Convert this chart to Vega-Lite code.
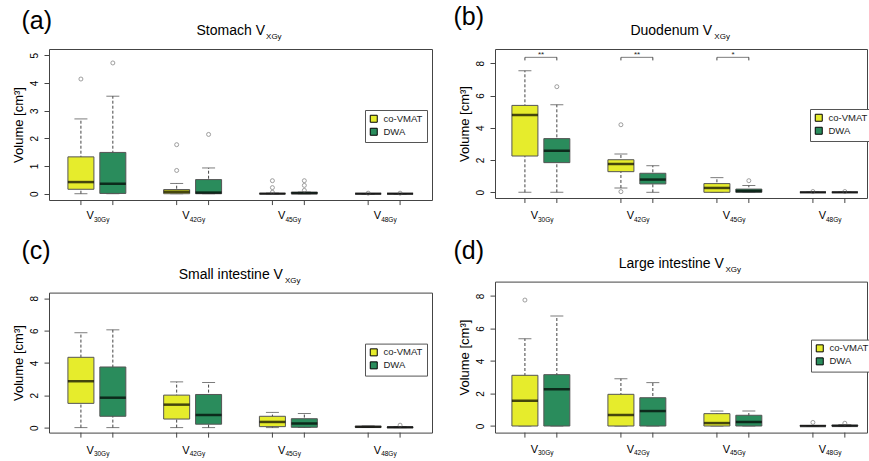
{
"$schema": "https://vega.github.io/schema/vega-lite/v6.json",
"padding": {"left": 11, "top": 4, "right": 0, "bottom": 0},
"config": {
 "font": "Liberation Sans",
 "view": {"stroke": "#444", "strokeWidth": 1},
 "axisY": {"domain": false, "grid": false, "tickSize": 5, "tickColor": "#444", "tickCount": 6, "labelAngle": -90, "labelAlign": "center", "labelBaseline": "bottom", "labelFontSize": 10, "labelColor": "#000", "labelPadding": 5, "labelOverlap": false, "titleFontSize": 13, "titleFontWeight": "normal", "titleColor": "#000", "titlePadding": 4},
 "legend": {"symbolType": "square", "symbolSize": 49, "symbolStrokeColor": "#000", "symbolStrokeWidth": 1, "labelFontSize": 9.5, "labelColor": "#222", "padding": 4, "rowPadding": 1, "strokeColor": "#555", "fillColor": "#fff", "labelOffset": 5, "symbolOpacity": 1},
 "title": {"font": "Liberation Sans", "fontWeight": "normal", "color": "#000", "subtitleColor": "#000", "subtitleFont": "Liberation Sans"}
},
"datasets": {
 "stats": [
  {"panel":"a","dose":"V30Gy","sub":"30Gy","group":"co-VMAT","lower":0,"q1":0.16,"median":0.42,"q3":1.33,"upper":2.70},
  {"panel":"a","dose":"V30Gy","sub":"30Gy","group":"DWA","lower":0,"q1":0.01,"median":0.36,"q3":1.49,"upper":3.52},
  {"panel":"a","dose":"V42Gy","sub":"42Gy","group":"co-VMAT","lower":0,"q1":0.0,"median":0.07,"q3":0.15,"upper":0.37},
  {"panel":"a","dose":"V42Gy","sub":"42Gy","group":"DWA","lower":0,"q1":0.0,"median":0.04,"q3":0.51,"upper":0.93},
  {"panel":"a","dose":"V45Gy","sub":"45Gy","group":"co-VMAT","lower":0,"q1":0,"median":0,"q3":0.01,"upper":0.02},
  {"panel":"a","dose":"V45Gy","sub":"45Gy","group":"DWA","lower":0,"q1":0,"median":0.02,"q3":0.06,"upper":0.06},
  {"panel":"a","dose":"V48Gy","sub":"48Gy","group":"co-VMAT","lower":0,"q1":0,"median":0,"q3":0,"upper":0},
  {"panel":"a","dose":"V48Gy","sub":"48Gy","group":"DWA","lower":0,"q1":0,"median":0,"q3":0,"upper":0},
  {"panel":"b","dose":"V30Gy","sub":"30Gy","group":"co-VMAT","lower":0,"q1":2.25,"median":4.79,"q3":5.39,"upper":7.54},
  {"panel":"b","dose":"V30Gy","sub":"30Gy","group":"DWA","lower":0,"q1":1.84,"median":2.58,"q3":3.33,"upper":5.43},
  {"panel":"b","dose":"V42Gy","sub":"42Gy","group":"co-VMAT","lower":0.27,"q1":1.28,"median":1.76,"q3":2.02,"upper":2.38},
  {"panel":"b","dose":"V42Gy","sub":"42Gy","group":"DWA","lower":0,"q1":0.52,"median":0.79,"q3":1.18,"upper":1.65},
  {"panel":"b","dose":"V45Gy","sub":"45Gy","group":"co-VMAT","lower":0,"q1":0,"median":0.27,"q3":0.54,"upper":0.91},
  {"panel":"b","dose":"V45Gy","sub":"45Gy","group":"DWA","lower":0,"q1":0,"median":0.08,"q3":0.2,"upper":0.42},
  {"panel":"b","dose":"V48Gy","sub":"48Gy","group":"co-VMAT","lower":0,"q1":0,"median":0,"q3":0,"upper":0},
  {"panel":"b","dose":"V48Gy","sub":"48Gy","group":"DWA","lower":0,"q1":0,"median":0,"q3":0,"upper":0},
  {"panel":"c","dose":"V30Gy","sub":"30Gy","group":"co-VMAT","lower":0,"q1":1.50,"median":2.87,"q3":4.35,"upper":5.87},
  {"panel":"c","dose":"V30Gy","sub":"30Gy","group":"DWA","lower":0,"q1":0.70,"median":1.85,"q3":3.75,"upper":6.05},
  {"panel":"c","dose":"V42Gy","sub":"42Gy","group":"co-VMAT","lower":0,"q1":0.53,"median":1.42,"q3":2.01,"upper":2.83},
  {"panel":"c","dose":"V42Gy","sub":"42Gy","group":"DWA","lower":0,"q1":0.21,"median":0.78,"q3":2.05,"upper":2.79},
  {"panel":"c","dose":"V45Gy","sub":"45Gy","group":"co-VMAT","lower":0,"q1":0.06,"median":0.35,"q3":0.70,"upper":0.94},
  {"panel":"c","dose":"V45Gy","sub":"45Gy","group":"DWA","lower":0,"q1":0.02,"median":0.25,"q3":0.55,"upper":0.88},
  {"panel":"c","dose":"V48Gy","sub":"48Gy","group":"co-VMAT","lower":0.01,"q1":0.02,"median":0.05,"q3":0.08,"upper":0.1},
  {"panel":"c","dose":"V48Gy","sub":"48Gy","group":"DWA","lower":0,"q1":0,"median":0.02,"q3":0.04,"upper":0.05},
  {"panel":"d","dose":"V30Gy","sub":"30Gy","group":"co-VMAT","lower":0,"q1":0,"median":1.56,"q3":3.12,"upper":5.37},
  {"panel":"d","dose":"V30Gy","sub":"30Gy","group":"DWA","lower":0,"q1":0,"median":2.26,"q3":3.16,"upper":6.77},
  {"panel":"d","dose":"V42Gy","sub":"42Gy","group":"co-VMAT","lower":0,"q1":0,"median":0.68,"q3":1.95,"upper":2.91},
  {"panel":"d","dose":"V42Gy","sub":"42Gy","group":"DWA","lower":0,"q1":0,"median":0.92,"q3":1.74,"upper":2.67},
  {"panel":"d","dose":"V45Gy","sub":"45Gy","group":"co-VMAT","lower":0,"q1":0,"median":0.18,"q3":0.76,"upper":0.92},
  {"panel":"d","dose":"V45Gy","sub":"45Gy","group":"DWA","lower":0,"q1":0,"median":0.25,"q3":0.66,"upper":0.92},
  {"panel":"d","dose":"V48Gy","sub":"48Gy","group":"co-VMAT","lower":0,"q1":0,"median":0,"q3":0.02,"upper":0.03},
  {"panel":"d","dose":"V48Gy","sub":"48Gy","group":"DWA","lower":0,"q1":0,"median":0.01,"q3":0.05,"upper":0.08}
 ],
 "outliers": [
  {"panel":"a","dose":"V30Gy","group":"co-VMAT","value":4.14},
  {"panel":"a","dose":"V30Gy","group":"DWA","value":4.72},
  {"panel":"a","dose":"V42Gy","group":"co-VMAT","value":1.77},
  {"panel":"a","dose":"V42Gy","group":"co-VMAT","value":0.84},
  {"panel":"a","dose":"V42Gy","group":"DWA","value":2.14},
  {"panel":"a","dose":"V45Gy","group":"co-VMAT","value":0.47},
  {"panel":"a","dose":"V45Gy","group":"co-VMAT","value":0.22},
  {"panel":"a","dose":"V45Gy","group":"co-VMAT","value":0.05},
  {"panel":"a","dose":"V45Gy","group":"DWA","value":0.47},
  {"panel":"a","dose":"V45Gy","group":"DWA","value":0.30},
  {"panel":"a","dose":"V45Gy","group":"DWA","value":0.12},
  {"panel":"a","dose":"V48Gy","group":"co-VMAT","value":0.02},
  {"panel":"a","dose":"V48Gy","group":"DWA","value":0.02},
  {"panel":"b","dose":"V30Gy","group":"DWA","value":6.55},
  {"panel":"b","dose":"V42Gy","group":"co-VMAT","value":4.19},
  {"panel":"b","dose":"V42Gy","group":"co-VMAT","value":0.04},
  {"panel":"b","dose":"V45Gy","group":"DWA","value":0.72},
  {"panel":"b","dose":"V48Gy","group":"co-VMAT","value":0.05},
  {"panel":"b","dose":"V48Gy","group":"DWA","value":0.05},
  {"panel":"c","dose":"V48Gy","group":"DWA","value":0.15},
  {"panel":"d","dose":"V30Gy","group":"co-VMAT","value":7.75},
  {"panel":"d","dose":"V48Gy","group":"co-VMAT","value":0.22},
  {"panel":"d","dose":"V48Gy","group":"DWA","value":0.17}
 ],
 "brackets": [
  {"dose":"V30Gy","group":"co-VMAT","stars":"**"},
  {"dose":"V30Gy","group":"DWA","stars":"**"},
  {"dose":"V42Gy","group":"co-VMAT","stars":"**"},
  {"dose":"V42Gy","group":"DWA","stars":"**"},
  {"dose":"V45Gy","group":"co-VMAT","stars":"*"},
  {"dose":"V45Gy","group":"DWA","stars":"*"}
 ]
},
"resolve": {"scale": {"color": "independent"}, "legend": {"color": "independent"}},
"hconcat": [
 {"resolve": {"scale": {"color": "independent"}, "legend": {"color": "independent"}},
  "spacing": 14.6,
  "vconcat": [
  {"title": {"text": "(a)", "anchor": "start", "fontSize": 25, "dx": 10, "offset": -10.6},
   "resolve": {"scale": {"color": "independent"}, "legend": {"color": "independent"}},
   "vconcat": [{
    "width": 383, "height": 151,
    "title": {"text": "Stomach V\u00a0\u00a0\u00a0\u00a0\u00a0\u200b", "subtitle": "\u200b\u00a0\u00a0\u00a0\u00a0\u00a0\u00a0\u00a0\u00a0\u00a0\u00a0\u00a0\u00a0\u00a0\u00a0\u00a0\u00a0\u00a0\u00a0\u00a0\u00a0\u00a0\u00a0\u00a0\u00a0\u00a0\u00a0\u00a0\u00a0\u00a0\u00a0XGy", "fontSize": 14, "subtitleFontSize": 8, "subtitlePadding": -5, "anchor": "middle", "offset": 8},
    "layer": [
     {"data": {"name": "stats"}, "transform": [{"filter": "datum.panel === 'a'"}],
      "mark": {"type": "rule", "strokeDash": [3, 2], "color": "#444"},
      "encoding": {
       "x": {"field": "dose", "type": "nominal", "scale": {"domain": ["V30Gy","V42Gy","V45Gy","V48Gy"], "paddingInner": 0, "paddingOuter": 0}, "axis": null},
       "xOffset": {"field": "group", "type": "nominal", "scale": {"domain": ["co-VMAT","DWA"], "paddingInner": 0, "paddingOuter": 0.5}},
       "y": {"field": "lower", "type": "quantitative", "scale": {"domain": [-0.227, 5.224], "nice": false, "zero": false}, "axis": {"values": [0,1,2,3,4,5], "title": "Volume [cm³]"}},
       "y2": {"field": "upper"}}},
     {"data": {"name": "stats"}, "transform": [{"filter": "datum.panel === 'a'"}],
      "mark": {"type": "tick", "size": 13, "thickness": 1, "color": "#444"},
      "encoding": {"x": {"field": "dose", "type": "nominal", "axis": null}, "xOffset": {"field": "group", "type": "nominal"}, "y": {"field": "lower", "type": "quantitative", "axis": {"values": [0,1,2,3,4,5], "title": "Volume [cm³]"}}}},
     {"data": {"name": "stats"}, "transform": [{"filter": "datum.panel === 'a'"}],
      "mark": {"type": "tick", "size": 13, "thickness": 1, "color": "#444"},
      "encoding": {"x": {"field": "dose", "type": "nominal", "axis": null}, "xOffset": {"field": "group", "type": "nominal"}, "y": {"field": "upper", "type": "quantitative", "axis": {"values": [0,1,2,3,4,5], "title": "Volume [cm³]"}}}},
     {"data": {"name": "stats"}, "transform": [{"filter": "datum.panel === 'a'"}],
      "mark": {"type": "bar", "width": 26, "stroke": "#555", "strokeWidth": 1, "opacity": 1},
      "encoding": {"x": {"field": "dose", "type": "nominal", "axis": null}, "xOffset": {"field": "group", "type": "nominal"}, "y": {"field": "q1", "type": "quantitative", "axis": {"values": [0,1,2,3,4,5], "title": "Volume [cm³]"}}, "y2": {"field": "q3"},
       "color": {"field": "group", "type": "nominal", "scale": {"domain": ["co-VMAT","DWA"], "range": ["#e6ec2c","#2a8c5c"]}, "legend": {"title": null, "orient": "none", "legendX": 316, "legendY": 61}}}},
     {"data": {"name": "stats"}, "transform": [{"filter": "datum.panel === 'a'"}],
      "mark": {"type": "tick", "size": 26, "thickness": 2.5, "color": "#000"},
      "encoding": {"x": {"field": "dose", "type": "nominal", "axis": null}, "xOffset": {"field": "group", "type": "nominal"}, "y": {"field": "median", "type": "quantitative", "axis": {"values": [0,1,2,3,4,5], "title": "Volume [cm³]"}}}},
     {"data": {"name": "outliers"}, "transform": [{"filter": "datum.panel === 'a'"}],
      "mark": {"type": "point", "filled": false, "size": 16, "stroke": "#555", "strokeWidth": 0.8},
      "encoding": {"x": {"field": "dose", "type": "nominal", "axis": null}, "xOffset": {"field": "group", "type": "nominal"}, "y": {"field": "value", "type": "quantitative", "axis": {"values": [0,1,2,3,4,5], "title": "Volume [cm³]"}}}},
     {"data": {"name": "stats"}, "transform": [{"filter": "datum.panel === 'a'"}],
      "mark": {"type": "rule", "color": "#444"},
      "encoding": {"x": {"field": "dose", "type": "nominal", "axis": null}, "xOffset": {"field": "group", "type": "nominal"}, "y": {"datum": -0.227, "axis": {"values": [0,1,2,3,4,5], "title": "Volume [cm³]"}}, "y2": {"datum": -0.41}}},
     {"data": {"name": "stats"}, "transform": [{"filter": "datum.panel === 'a' && datum.group === 'co-VMAT'"}],
      "mark": {"type": "text", "align": "right", "baseline": "alphabetic", "dx": -3, "dy": 19, "fontSize": 11, "color": "#000"},
      "encoding": {"x": {"field": "dose", "type": "nominal", "axis": null}, "y": {"datum": -0.227, "axis": {"values": [0,1,2,3,4,5], "title": "Volume [cm³]"}}, "text": {"value": "V"}}},
     {"data": {"name": "stats"}, "transform": [{"filter": "datum.panel === 'a' && datum.group === 'co-VMAT'"}],
      "mark": {"type": "text", "align": "left", "baseline": "alphabetic", "dx": -3, "dy": 21.5, "fontSize": 6.5, "color": "#000"},
      "encoding": {"x": {"field": "dose", "type": "nominal", "axis": null}, "y": {"datum": -0.227, "axis": {"values": [0,1,2,3,4,5], "title": "Volume [cm³]"}}, "text": {"field": "sub"}}}
    ]
   }]
  },
  {"title": {"text": "(c)", "anchor": "start", "fontSize": 25, "dx": 10, "offset": 2.7},
   "resolve": {"scale": {"color": "independent"}, "legend": {"color": "independent"}},
   "vconcat": [{
    "width": 383, "height": 140,
    "title": {"text": "Small intestine V\u00a0\u00a0\u00a0\u00a0\u00a0\u200b", "subtitle": "\u200b\u00a0\u00a0\u00a0\u00a0\u00a0\u00a0\u00a0\u00a0\u00a0\u00a0\u00a0\u00a0\u00a0\u00a0\u00a0\u00a0\u00a0\u00a0\u00a0\u00a0\u00a0\u00a0\u00a0\u00a0\u00a0\u00a0\u00a0\u00a0\u00a0\u00a0\u00a0\u00a0\u00a0\u00a0\u00a0\u00a0\u00a0\u00a0\u00a0\u00a0\u00a0\u00a0\u00a0\u00a0\u00a0\u00a0\u00a0XGy", "fontSize": 14, "subtitleFontSize": 8, "subtitlePadding": -5, "anchor": "middle", "offset": 8},
    "layer": [
     {"data": {"name": "stats"}, "transform": [{"filter": "datum.panel === 'c'"}],
      "mark": {"type": "rule", "strokeDash": [3, 2], "color": "#444"},
      "encoding": {
       "x": {"field": "dose", "type": "nominal", "scale": {"domain": ["V30Gy","V42Gy","V45Gy","V48Gy"], "paddingInner": 0, "paddingOuter": 0}, "axis": null},
       "xOffset": {"field": "group", "type": "nominal", "scale": {"domain": ["co-VMAT","DWA"], "paddingInner": 0, "paddingOuter": 0.5}},
       "y": {"field": "lower", "type": "quantitative", "scale": {"domain": [-0.309, 8.353], "nice": false, "zero": false}, "axis": {"values": [0,2,4,6,8], "title": "Volume [cm³]"}},
       "y2": {"field": "upper"}}},
     {"data": {"name": "stats"}, "transform": [{"filter": "datum.panel === 'c'"}],
      "mark": {"type": "tick", "size": 13, "thickness": 1, "color": "#444"},
      "encoding": {"x": {"field": "dose", "type": "nominal", "axis": null}, "xOffset": {"field": "group", "type": "nominal"}, "y": {"field": "lower", "type": "quantitative", "axis": {"values": [0,2,4,6,8], "title": "Volume [cm³]"}}}},
     {"data": {"name": "stats"}, "transform": [{"filter": "datum.panel === 'c'"}],
      "mark": {"type": "tick", "size": 13, "thickness": 1, "color": "#444"},
      "encoding": {"x": {"field": "dose", "type": "nominal", "axis": null}, "xOffset": {"field": "group", "type": "nominal"}, "y": {"field": "upper", "type": "quantitative", "axis": {"values": [0,2,4,6,8], "title": "Volume [cm³]"}}}},
     {"data": {"name": "stats"}, "transform": [{"filter": "datum.panel === 'c'"}],
      "mark": {"type": "bar", "width": 26, "stroke": "#555", "strokeWidth": 1, "opacity": 1},
      "encoding": {"x": {"field": "dose", "type": "nominal", "axis": null}, "xOffset": {"field": "group", "type": "nominal"}, "y": {"field": "q1", "type": "quantitative", "axis": {"values": [0,2,4,6,8], "title": "Volume [cm³]"}}, "y2": {"field": "q3"},
       "color": {"field": "group", "type": "nominal", "scale": {"domain": ["co-VMAT","DWA"], "range": ["#e6ec2c","#2a8c5c"]}, "legend": {"title": null, "orient": "none", "legendX": 316, "legendY": 51}}}},
     {"data": {"name": "stats"}, "transform": [{"filter": "datum.panel === 'c'"}],
      "mark": {"type": "tick", "size": 26, "thickness": 2.5, "color": "#000"},
      "encoding": {"x": {"field": "dose", "type": "nominal", "axis": null}, "xOffset": {"field": "group", "type": "nominal"}, "y": {"field": "median", "type": "quantitative", "axis": {"values": [0,2,4,6,8], "title": "Volume [cm³]"}}}},
     {"data": {"name": "outliers"}, "transform": [{"filter": "datum.panel === 'c'"}],
      "mark": {"type": "point", "filled": false, "size": 16, "stroke": "#555", "strokeWidth": 0.8},
      "encoding": {"x": {"field": "dose", "type": "nominal", "axis": null}, "xOffset": {"field": "group", "type": "nominal"}, "y": {"field": "value", "type": "quantitative", "axis": {"values": [0,2,4,6,8], "title": "Volume [cm³]"}}}},
     {"data": {"name": "stats"}, "transform": [{"filter": "datum.panel === 'c'"}],
      "mark": {"type": "rule", "color": "#444"},
      "encoding": {"x": {"field": "dose", "type": "nominal", "axis": null}, "xOffset": {"field": "group", "type": "nominal"}, "y": {"datum": -0.309, "axis": {"values": [0,2,4,6,8], "title": "Volume [cm³]"}}, "y2": {"datum": -0.619}}},
     {"data": {"name": "stats"}, "transform": [{"filter": "datum.panel === 'c' && datum.group === 'co-VMAT'"}],
      "mark": {"type": "text", "align": "right", "baseline": "alphabetic", "dx": -3, "dy": 21, "fontSize": 11, "color": "#000"},
      "encoding": {"x": {"field": "dose", "type": "nominal", "axis": null}, "y": {"datum": -0.309, "axis": {"values": [0,2,4,6,8], "title": "Volume [cm³]"}}, "text": {"value": "V"}}},
     {"data": {"name": "stats"}, "transform": [{"filter": "datum.panel === 'c' && datum.group === 'co-VMAT'"}],
      "mark": {"type": "text", "align": "left", "baseline": "alphabetic", "dx": -3, "dy": 23.5, "fontSize": 6.5, "color": "#000"},
      "encoding": {"x": {"field": "dose", "type": "nominal", "axis": null}, "y": {"datum": -0.309, "axis": {"values": [0,2,4,6,8], "title": "Volume [cm³]"}}, "text": {"field": "sub"}}}
    ]
   }]
  }
 ]},
 {"resolve": {"scale": {"color": "independent"}, "legend": {"color": "independent"}},
  "spacing": 14.6,
  "vconcat": [
  {"title": {"text": "(b)", "anchor": "start", "fontSize": 25, "dx": -4, "offset": -6},
   "resolve": {"scale": {"color": "independent"}, "legend": {"color": "independent"}},
   "vconcat": [{
    "width": 372, "height": 149,
    "title": {"text": "Duodenum V\u00a0\u00a0\u00a0\u00a0\u00a0\u200b", "subtitle": "\u200b\u00a0\u00a0\u00a0\u00a0\u00a0\u00a0\u00a0\u00a0\u00a0\u00a0\u00a0\u00a0\u00a0\u00a0\u00a0\u00a0\u00a0\u00a0\u00a0\u00a0\u00a0\u00a0\u00a0\u00a0\u00a0\u00a0\u00a0\u00a0\u00a0\u00a0\u00a0\u00a0\u00a0\u00a0\u00a0\u00a0\u00a0XGy", "fontSize": 14, "subtitleFontSize": 8, "subtitlePadding": -5, "anchor": "middle", "offset": 8},
    "layer": [
     {"data": {"name": "stats"}, "transform": [{"filter": "datum.panel === 'b'"}],
      "mark": {"type": "rule", "strokeDash": [3, 2], "color": "#444"},
      "encoding": {
       "x": {"field": "dose", "type": "nominal", "scale": {"domain": ["V30Gy","V42Gy","V45Gy","V48Gy"], "paddingInner": 0, "paddingOuter": 0, "range": [-2, 382]}, "axis": null},
       "xOffset": {"field": "group", "type": "nominal", "scale": {"domain": ["co-VMAT","DWA"], "paddingInner": 0, "paddingOuter": 0.5}},
       "y": {"field": "lower", "type": "quantitative", "scale": {"domain": [-0.353, 8.887], "nice": false, "zero": false}, "axis": {"values": [0,2,4,6,8], "title": "Volume [cm³]"}},
       "y2": {"field": "upper"}}},
     {"data": {"name": "stats"}, "transform": [{"filter": "datum.panel === 'b'"}],
      "mark": {"type": "tick", "size": 13, "thickness": 1, "color": "#444"},
      "encoding": {"x": {"field": "dose", "type": "nominal", "axis": null}, "xOffset": {"field": "group", "type": "nominal"}, "y": {"field": "lower", "type": "quantitative", "axis": {"values": [0,2,4,6,8], "title": "Volume [cm³]"}}}},
     {"data": {"name": "stats"}, "transform": [{"filter": "datum.panel === 'b'"}],
      "mark": {"type": "tick", "size": 13, "thickness": 1, "color": "#444"},
      "encoding": {"x": {"field": "dose", "type": "nominal", "axis": null}, "xOffset": {"field": "group", "type": "nominal"}, "y": {"field": "upper", "type": "quantitative", "axis": {"values": [0,2,4,6,8], "title": "Volume [cm³]"}}}},
     {"data": {"name": "stats"}, "transform": [{"filter": "datum.panel === 'b'"}],
      "mark": {"type": "bar", "width": 26, "stroke": "#555", "strokeWidth": 1, "opacity": 1},
      "encoding": {"x": {"field": "dose", "type": "nominal", "axis": null}, "xOffset": {"field": "group", "type": "nominal"}, "y": {"field": "q1", "type": "quantitative", "axis": {"values": [0,2,4,6,8], "title": "Volume [cm³]"}}, "y2": {"field": "q3"},
       "color": {"field": "group", "type": "nominal", "scale": {"domain": ["co-VMAT","DWA"], "range": ["#e6ec2c","#2a8c5c"]}, "legend": {"title": null, "orient": "none", "legendX": 315, "legendY": 60}}}},
     {"data": {"name": "stats"}, "transform": [{"filter": "datum.panel === 'b'"}],
      "mark": {"type": "tick", "size": 26, "thickness": 2.5, "color": "#000"},
      "encoding": {"x": {"field": "dose", "type": "nominal", "axis": null}, "xOffset": {"field": "group", "type": "nominal"}, "y": {"field": "median", "type": "quantitative", "axis": {"values": [0,2,4,6,8], "title": "Volume [cm³]"}}}},
     {"data": {"name": "outliers"}, "transform": [{"filter": "datum.panel === 'b'"}],
      "mark": {"type": "point", "filled": false, "size": 16, "stroke": "#555", "strokeWidth": 0.8},
      "encoding": {"x": {"field": "dose", "type": "nominal", "axis": null}, "xOffset": {"field": "group", "type": "nominal"}, "y": {"field": "value", "type": "quantitative", "axis": {"values": [0,2,4,6,8], "title": "Volume [cm³]"}}}},
     {"data": {"name": "stats"}, "transform": [{"filter": "datum.panel === 'b'"}],
      "mark": {"type": "rule", "color": "#444"},
      "encoding": {"x": {"field": "dose", "type": "nominal", "axis": null}, "xOffset": {"field": "group", "type": "nominal"}, "y": {"datum": -0.353, "axis": {"values": [0,2,4,6,8], "title": "Volume [cm³]"}}, "y2": {"datum": -0.663}}},
     {"data": {"name": "stats"}, "transform": [{"filter": "datum.panel === 'b' && datum.group === 'co-VMAT'"}],
      "mark": {"type": "text", "align": "right", "baseline": "alphabetic", "dx": -3, "dy": 21, "fontSize": 11, "color": "#000"},
      "encoding": {"x": {"field": "dose", "type": "nominal", "axis": null}, "y": {"datum": -0.353, "axis": {"values": [0,2,4,6,8], "title": "Volume [cm³]"}}, "text": {"value": "V"}}},
     {"data": {"name": "stats"}, "transform": [{"filter": "datum.panel === 'b' && datum.group === 'co-VMAT'"}],
      "mark": {"type": "text", "align": "left", "baseline": "alphabetic", "dx": -3, "dy": 23.5, "fontSize": 6.5, "color": "#000"},
      "encoding": {"x": {"field": "dose", "type": "nominal", "axis": null}, "y": {"datum": -0.353, "axis": {"values": [0,2,4,6,8], "title": "Volume [cm³]"}}, "text": {"field": "sub"}}},
     {"data": {"name": "brackets"}, "transform": [{"filter": "datum.group === 'co-VMAT'"}],
      "mark": {"type": "tick", "size": 32, "thickness": 1, "color": "#444"},
      "encoding": {"x": {"field": "dose", "type": "nominal", "axis": null}, "y": {"datum": 8.37, "axis": {"values": [0,2,4,6,8], "title": "Volume [cm³]"}}}},
     {"data": {"name": "brackets"},
      "mark": {"type": "rule", "color": "#444"},
      "encoding": {"x": {"field": "dose", "type": "nominal", "axis": null}, "xOffset": {"field": "group", "type": "nominal"}, "y": {"datum": 8.37, "axis": {"values": [0,2,4,6,8], "title": "Volume [cm³]"}}, "y2": {"datum": 8.18}}},
     {"data": {"name": "brackets"}, "transform": [{"filter": "datum.group === 'co-VMAT'"}],
      "mark": {"type": "text", "baseline": "alphabetic", "fontSize": 8, "dy": -0.5, "color": "#222"},
      "encoding": {"x": {"field": "dose", "type": "nominal", "axis": null}, "y": {"datum": 8.37, "axis": {"values": [0,2,4,6,8], "title": "Volume [cm³]"}}, "text": {"field": "stars"}}}
    ]
   }]
  },
  {"title": {"text": "(d)", "anchor": "start", "fontSize": 25, "dx": -4, "offset": -7.7},
   "resolve": {"scale": {"color": "independent"}, "legend": {"color": "independent"}},
   "vconcat": [{
    "width": 372, "height": 151,
    "title": {"text": "Large intestine V\u00a0\u00a0\u00a0\u00a0\u00a0\u200b", "subtitle": "\u200b\u00a0\u00a0\u00a0\u00a0\u00a0\u00a0\u00a0\u00a0\u00a0\u00a0\u00a0\u00a0\u00a0\u00a0\u00a0\u00a0\u00a0\u00a0\u00a0\u00a0\u00a0\u00a0\u00a0\u00a0\u00a0\u00a0\u00a0\u00a0\u00a0\u00a0\u00a0\u00a0\u00a0\u00a0\u00a0\u00a0\u00a0\u00a0\u00a0\u00a0\u00a0\u00a0\u00a0\u00a0\u00a0\u00a0\u00a0XGy", "fontSize": 14, "subtitleFontSize": 8, "subtitlePadding": -5, "anchor": "middle", "offset": 8},
    "layer": [
     {"data": {"name": "stats"}, "transform": [{"filter": "datum.panel === 'd'"}],
      "mark": {"type": "rule", "strokeDash": [3, 2], "color": "#444"},
      "encoding": {
       "x": {"field": "dose", "type": "nominal", "scale": {"domain": ["V30Gy","V42Gy","V45Gy","V48Gy"], "paddingInner": 0, "paddingOuter": 0, "range": [-2, 382]}, "axis": null},
       "xOffset": {"field": "group", "type": "nominal", "scale": {"domain": ["co-VMAT","DWA"], "paddingInner": 0, "paddingOuter": 0.5}},
       "y": {"field": "lower", "type": "quantitative", "scale": {"domain": [-0.406, 8.886], "nice": false, "zero": false}, "axis": {"values": [0,2,4,6,8], "title": "Volume [cm³]"}},
       "y2": {"field": "upper"}}},
     {"data": {"name": "stats"}, "transform": [{"filter": "datum.panel === 'd'"}],
      "mark": {"type": "tick", "size": 13, "thickness": 1, "color": "#444"},
      "encoding": {"x": {"field": "dose", "type": "nominal", "axis": null}, "xOffset": {"field": "group", "type": "nominal"}, "y": {"field": "lower", "type": "quantitative", "axis": {"values": [0,2,4,6,8], "title": "Volume [cm³]"}}}},
     {"data": {"name": "stats"}, "transform": [{"filter": "datum.panel === 'd'"}],
      "mark": {"type": "tick", "size": 13, "thickness": 1, "color": "#444"},
      "encoding": {"x": {"field": "dose", "type": "nominal", "axis": null}, "xOffset": {"field": "group", "type": "nominal"}, "y": {"field": "upper", "type": "quantitative", "axis": {"values": [0,2,4,6,8], "title": "Volume [cm³]"}}}},
     {"data": {"name": "stats"}, "transform": [{"filter": "datum.panel === 'd'"}],
      "mark": {"type": "bar", "width": 26, "stroke": "#555", "strokeWidth": 1, "opacity": 1},
      "encoding": {"x": {"field": "dose", "type": "nominal", "axis": null}, "xOffset": {"field": "group", "type": "nominal"}, "y": {"field": "q1", "type": "quantitative", "axis": {"values": [0,2,4,6,8], "title": "Volume [cm³]"}}, "y2": {"field": "q3"},
       "color": {"field": "group", "type": "nominal", "scale": {"domain": ["co-VMAT","DWA"], "range": ["#e6ec2c","#2a8c5c"]}, "legend": {"title": null, "orient": "none", "legendX": 316, "legendY": 58}}}},
     {"data": {"name": "stats"}, "transform": [{"filter": "datum.panel === 'd'"}],
      "mark": {"type": "tick", "size": 26, "thickness": 2.5, "color": "#000"},
      "encoding": {"x": {"field": "dose", "type": "nominal", "axis": null}, "xOffset": {"field": "group", "type": "nominal"}, "y": {"field": "median", "type": "quantitative", "axis": {"values": [0,2,4,6,8], "title": "Volume [cm³]"}}}},
     {"data": {"name": "outliers"}, "transform": [{"filter": "datum.panel === 'd'"}],
      "mark": {"type": "point", "filled": false, "size": 16, "stroke": "#555", "strokeWidth": 0.8},
      "encoding": {"x": {"field": "dose", "type": "nominal", "axis": null}, "xOffset": {"field": "group", "type": "nominal"}, "y": {"field": "value", "type": "quantitative", "axis": {"values": [0,2,4,6,8], "title": "Volume [cm³]"}}}},
     {"data": {"name": "stats"}, "transform": [{"filter": "datum.panel === 'd'"}],
      "mark": {"type": "rule", "color": "#444"},
      "encoding": {"x": {"field": "dose", "type": "nominal", "axis": null}, "xOffset": {"field": "group", "type": "nominal"}, "y": {"datum": -0.406, "axis": {"values": [0,2,4,6,8], "title": "Volume [cm³]"}}, "y2": {"datum": -0.714}}},
     {"data": {"name": "stats"}, "transform": [{"filter": "datum.panel === 'd' && datum.group === 'co-VMAT'"}],
      "mark": {"type": "text", "align": "right", "baseline": "alphabetic", "dx": -3, "dy": 20, "fontSize": 11, "color": "#000"},
      "encoding": {"x": {"field": "dose", "type": "nominal", "axis": null}, "y": {"datum": -0.406, "axis": {"values": [0,2,4,6,8], "title": "Volume [cm³]"}}, "text": {"value": "V"}}},
     {"data": {"name": "stats"}, "transform": [{"filter": "datum.panel === 'd' && datum.group === 'co-VMAT'"}],
      "mark": {"type": "text", "align": "left", "baseline": "alphabetic", "dx": -3, "dy": 22.5, "fontSize": 6.5, "color": "#000"},
      "encoding": {"x": {"field": "dose", "type": "nominal", "axis": null}, "y": {"datum": -0.406, "axis": {"values": [0,2,4,6,8], "title": "Volume [cm³]"}}, "text": {"field": "sub"}}}
    ]
   }]
  }
 ]}
]
}
